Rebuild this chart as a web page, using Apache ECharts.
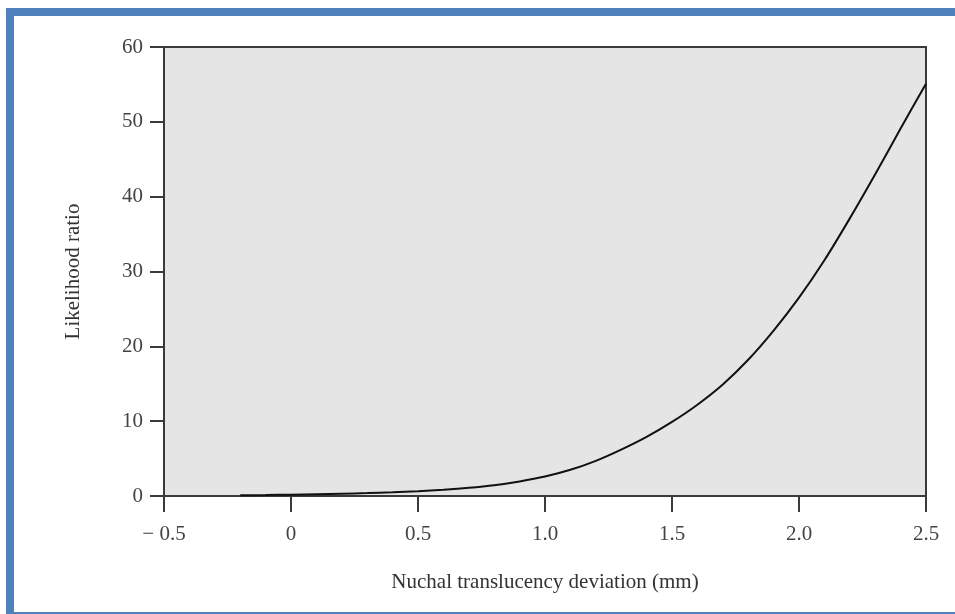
<!DOCTYPE html>
<html>
<head>
<meta charset="utf-8">
<script src="https://cdn.jsdelivr.net/npm/echarts@6/dist/echarts.min.js"></script>
<style>
  html, body { margin: 0; padding: 0; background: #ffffff; }
  #chart { width: 955px; height: 614px; }
</style>
</head>
<body>
<div id="chart"></div>
<script>
// Nuchal translucency deviation (mm)
const deviation = [-0.2, -0.1, 0.0, 0.1, 0.2, 0.3, 0.4, 0.5, 0.6, 0.7, 0.8, 0.9,
  1.0, 1.1, 1.2, 1.3, 1.4, 1.5, 1.6, 1.7, 1.8, 1.9, 2.0, 2.1, 2.2, 2.3, 2.4, 2.5];
// Likelihood ratio at each deviation
const likelihoodRatio = [0.1, 0.13, 0.18, 0.24, 0.31, 0.39, 0.5, 0.64, 0.84, 1.1, 1.45, 1.95,
  2.6, 3.5, 4.7, 6.2, 7.9, 9.9, 12.2, 14.9, 18.2, 22.1, 26.5, 31.5, 37.1, 43.0, 49.1, 55.1];

// Tick labels along the axes
const xTickValues = [-0.5, 0, 0.5, 1.0, 1.5, 2.0, 2.5];
const xTickLabels = ['\u2212 0.5', '0', '0.5', '1.0', '1.5', '2.0', '2.5'];
const yTickLabels = ['0', '10', '20', '30', '40', '50', '60'];

const serif = '"Liberation Serif", "DejaVu Serif", serif';
const frameBlue = '#4f81bd';
const axisGrey = '#3a3a3a';

const chart = echarts.init(document.getElementById('chart'), null, { renderer: 'canvas' });

function xLabel(v) {
  const i = xTickValues.findIndex(t => Math.abs(t - v) < 1e-6);
  return i >= 0 ? xTickLabels[i] : '';
}

chart.setOption({
  animation: false,
  backgroundColor: '#ffffff',
  graphic: [
    { type: 'rect', shape: { x: 6, y: 8, width: 8, height: 606 }, style: { fill: frameBlue }, z: 100 },
    { type: 'rect', shape: { x: 6, y: 8, width: 949, height: 8 }, style: { fill: frameBlue }, z: 100 },
    { type: 'rect', shape: { x: 6, y: 612, width: 949, height: 2 }, style: { fill: frameBlue }, z: 100 }
  ],
  grid: {
    left: 164, top: 47, right: 29, bottom: 118,
    show: true,
    backgroundColor: '#e5e5e5',
    borderColor: axisGrey,
    borderWidth: 2
  },
  xAxis: {
    type: 'value',
    min: -0.5, max: 2.5, interval: 0.5,
    name: 'Nuchal translucency deviation (mm)',
    nameLocation: 'middle',
    nameGap: 76,
    nameTextStyle: { fontFamily: serif, fontSize: 21, color: '#333333' },
    axisLine: { show: true, onZero: false, lineStyle: { color: axisGrey, width: 2 } },
    axisTick: { show: true, inside: false, length: 16, lineStyle: { color: axisGrey, width: 2 } },
    axisLabel: {
      margin: 28,
      fontFamily: serif, fontSize: 21, color: '#444444',
      formatter: xLabel
    },
    splitLine: { show: false }
  },
  yAxis: {
    type: 'value',
    min: 0, max: 60, interval: 10,
    name: 'Likelihood ratio',
    nameLocation: 'middle',
    nameGap: 80,
    nameRotate: 90,
    nameTextStyle: { fontFamily: serif, fontSize: 21, color: '#333333' },
    axisLine: { show: true, onZero: false, lineStyle: { color: axisGrey, width: 2 } },
    axisTick: { show: true, inside: false, length: 14, lineStyle: { color: axisGrey, width: 2 } },
    axisLabel: {
      margin: 21,
      fontFamily: serif, fontSize: 21, color: '#444444',
      formatter: v => yTickLabels[Math.round(v / 10)] ?? ''
    },
    splitLine: { show: false }
  },
  series: [{
    type: 'line',
    data: deviation.map((x, i) => [x, likelihoodRatio[i]]),
    smooth: 0.3,
    showSymbol: false,
    clip: true,
    lineStyle: { color: '#111111', width: 2 }
  }]
});
</script>
</body>
</html>
